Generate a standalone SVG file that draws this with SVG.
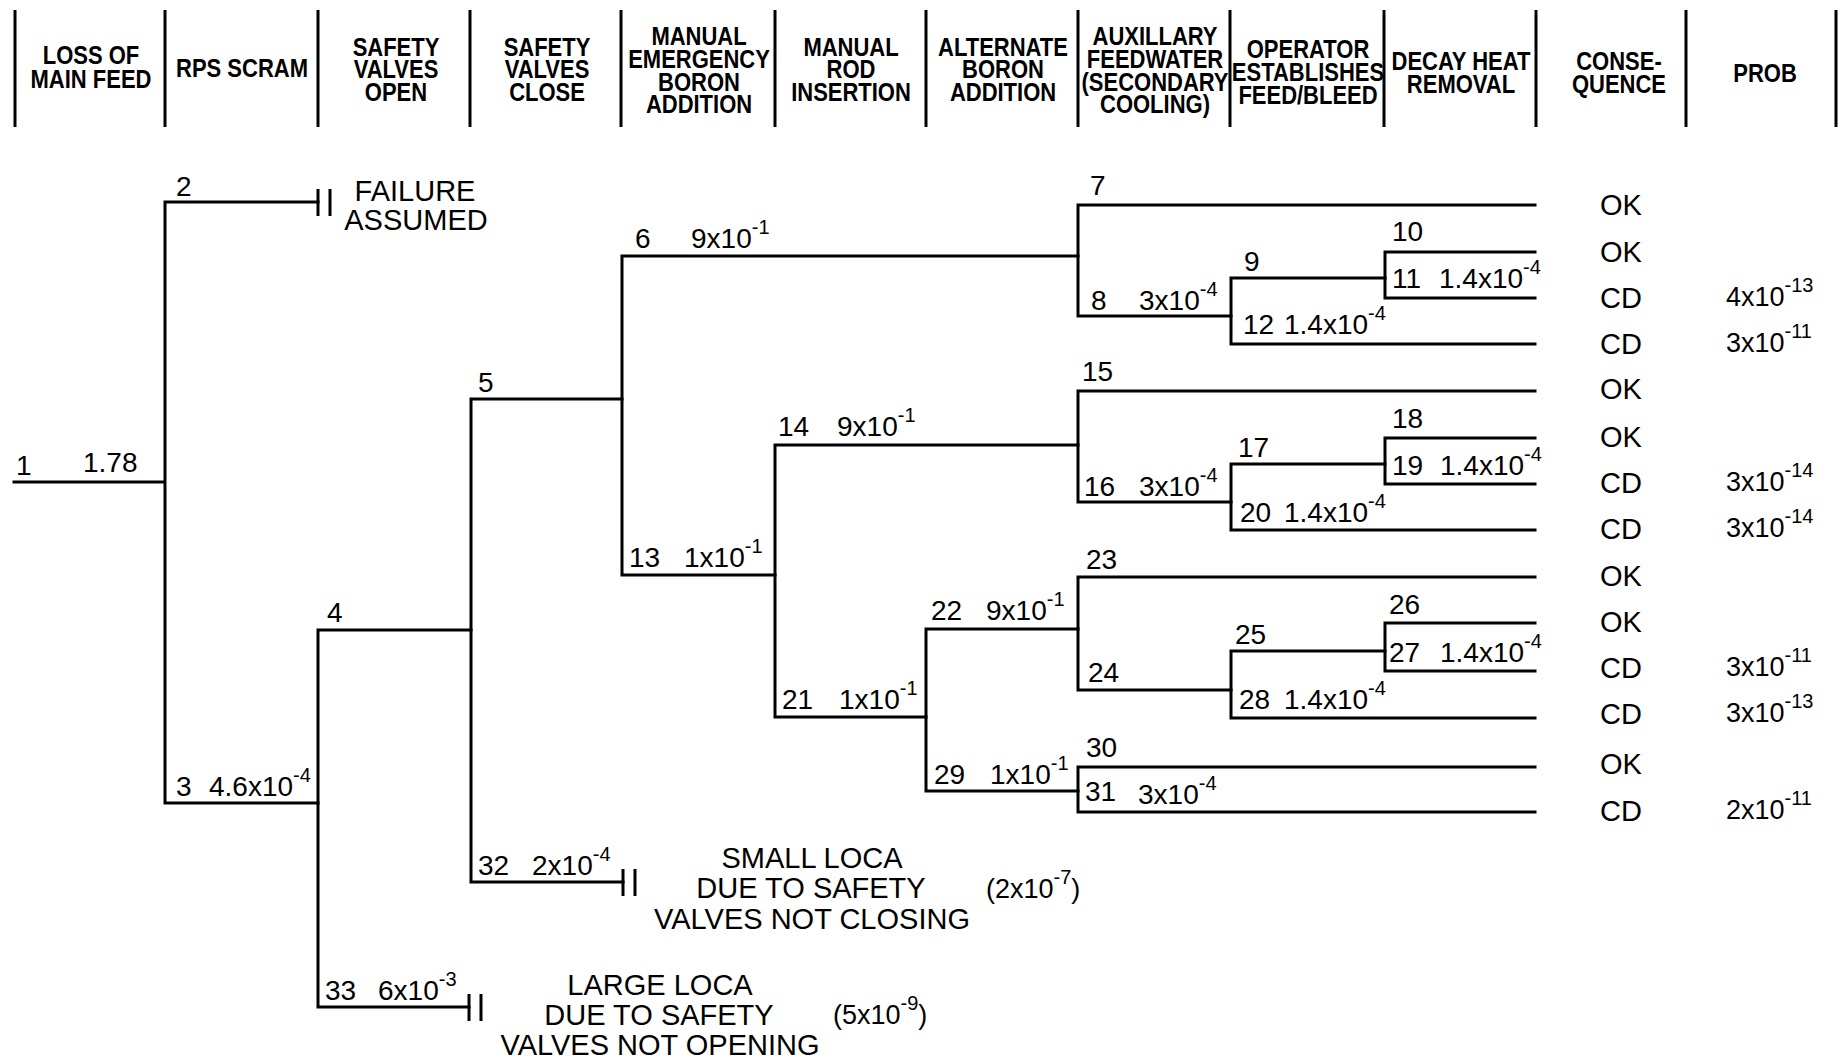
<svg xmlns="http://www.w3.org/2000/svg" width="1840" height="1060" viewBox="0 0 1840 1060">
<style>
.ln{stroke:#000;stroke-width:3;fill:none;stroke-linecap:square}
.dv{stroke:#000;stroke-width:3;fill:none}
.hd{font-family:"Liberation Sans",Arial,sans-serif;font-weight:bold;font-size:25px;text-anchor:middle;fill:#000}
.lb{font-family:"Liberation Sans",Arial,sans-serif;font-size:28px;fill:#000}
.sp{font-size:20px}
.big{font-family:"Liberation Sans",Arial,sans-serif;font-size:29px;text-anchor:middle;fill:#000}
.oc{font-family:"Liberation Sans",Arial,sans-serif;font-size:29px;fill:#000}
.pr{font-family:"Liberation Sans",Arial,sans-serif;font-size:27px;fill:#000}
</style>
<rect width="1840" height="1060" fill="#fff"/>
<g id="header-dividers" class="dv">
<path d="M15 10V127M165 10V127M318 10V127M470 10V127M621 10V127M775 10V127M926 10V127M1078 10V127M1230 10V127M1384 10V127M1536 10V127M1686 10V127M1836 10V127"/>
</g>
<g id="hdr-loss" transform="translate(91 0) scale(0.88 1)"><text class="hd" x="0" y="64">LOSS OF</text><text class="hd" x="0" y="88">MAIN FEED</text></g>
<g id="hdr-rps" transform="translate(242 0) scale(0.88 1)"><text class="hd" x="0" y="77">RPS SCRAM</text></g>
<g id="hdr-svopen" transform="translate(396 0) scale(0.88 1)"><text class="hd" x="0" y="56">SAFETY</text><text class="hd" x="0" y="78">VALVES</text><text class="hd" x="0" y="101">OPEN</text></g>
<g id="hdr-svclose" transform="translate(547 0) scale(0.88 1)"><text class="hd" x="0" y="56">SAFETY</text><text class="hd" x="0" y="78">VALVES</text><text class="hd" x="0" y="101">CLOSE</text></g>
<g id="hdr-meba" transform="translate(699 0) scale(0.88 1)"><text class="hd" x="0" y="45">MANUAL</text><text class="hd" x="0" y="68">EMERGENCY</text><text class="hd" x="0" y="91">BORON</text><text class="hd" x="0" y="113">ADDITION</text></g>
<g id="hdr-mri" transform="translate(851 0) scale(0.88 1)"><text class="hd" x="0" y="56">MANUAL</text><text class="hd" x="0" y="78">ROD</text><text class="hd" x="0" y="101">INSERTION</text></g>
<g id="hdr-aba" transform="translate(1003 0) scale(0.88 1)"><text class="hd" x="0" y="56">ALTERNATE</text><text class="hd" x="0" y="78">BORON</text><text class="hd" x="0" y="101">ADDITION</text></g>
<g id="hdr-afw" transform="translate(1155 0) scale(0.88 1)"><text class="hd" x="0" y="45">AUXILLARY</text><text class="hd" x="0" y="68">FEEDWATER</text><text class="hd" x="0" y="91">(SECONDARY</text><text class="hd" x="0" y="113">COOLING)</text></g>
<g id="hdr-oper" transform="translate(1308 0) scale(0.88 1)"><text class="hd" x="0" y="58">OPERATOR</text><text class="hd" x="0" y="81">ESTABLISHES</text><text class="hd" x="0" y="104">FEED/BLEED</text></g>
<g id="hdr-dhr" transform="translate(1461 0) scale(0.88 1)"><text class="hd" x="0" y="70">DECAY HEAT</text><text class="hd" x="0" y="93">REMOVAL</text></g>
<g id="hdr-cons" transform="translate(1619 0) scale(0.88 1)"><text class="hd" x="0" y="70">CONSE-</text><text class="hd" x="0" y="93">QUENCE</text></g>
<g id="hdr-prob" transform="translate(1765 0) scale(0.88 1)"><text class="hd" x="0" y="82">PROB</text></g>

<g id="connectors" class="ln">
<path d="M14 482H165M165 202V803M165 202H318M165 803H318"/>
<path d="M318 189V216M330 189V216" style="stroke-linecap:butt"/>
<path d="M318 630V1007M318 630H471M318 1007H469"/>
<path d="M469 994V1021M481 994V1021" style="stroke-linecap:butt"/>
<path d="M471 399V882M471 399H622M471 882H623"/>
<path d="M623 869V896M635 869V896" style="stroke-linecap:butt"/>
<path d="M622 256V575M622 256H1078M622 575H775"/>
<path d="M1078 205V316M1078 205H1535M1078 316H1231"/>
<path d="M1231 278V344M1231 278H1385M1231 344H1535"/>
<path d="M1385 252V298M1385 252H1535M1385 298H1535"/>
<path d="M775 445V717M775 445H1078M775 717H926"/>
<path d="M1078 391V502M1078 391H1535M1078 502H1231"/>
<path d="M1231 464V530M1231 464H1385M1231 530H1535"/>
<path d="M1385 438V484M1385 438H1535M1385 484H1535"/>
<path d="M926 629V791M926 629H1078M926 791H1078"/>
<path d="M1078 577V690M1078 577H1535M1078 690H1231"/>
<path d="M1231 651V718M1231 651H1385M1231 718H1535"/>
<path d="M1385 623V671M1385 623H1535M1385 671H1535"/>
<path d="M1078 767V812M1078 767H1535M1078 812H1535"/>
</g>

<g id="n1"><text class="lb" x="16" y="475">1</text><text class="lb" x="83" y="472">1.78</text></g>
<g id="n2"><text class="lb" x="176" y="196">2</text></g>
<g id="failure-assumed"><text class="big" x="415" y="201">FAILURE</text><text class="big" x="416" y="230">ASSUMED</text></g>
<g id="n3"><text class="lb" x="176" y="796">3</text><text class="lb" x="209" y="796">4.6x10<tspan class="sp" dy="-14">-4</tspan></text></g>
<g id="n4"><text class="lb" x="327" y="622">4</text></g>
<g id="n33"><text class="lb" x="325" y="1000">33</text><text class="lb" x="378" y="1000">6x10<tspan class="sp" dy="-14">-3</tspan></text></g>
<g id="large-loca"><text class="big" x="660" y="995">LARGE LOCA</text><text class="big" x="659" y="1025">DUE TO SAFETY</text><text class="big" x="660" y="1055">VALVES NOT OPENING</text><text class="pr" x="833" y="1024">(5x10<tspan class="sp" dy="-14">-9</tspan><tspan dy="14">)</tspan></text></g>
<g id="n5"><text class="lb" x="478" y="392">5</text></g>
<g id="n32"><text class="lb" x="478" y="875">32</text><text class="lb" x="532" y="875">2x10<tspan class="sp" dy="-14">-4</tspan></text></g>
<g id="small-loca"><text class="big" x="812" y="868">SMALL LOCA</text><text class="big" x="811" y="898">DUE TO SAFETY</text><text class="big" x="812" y="929">VALVES NOT CLOSING</text><text class="pr" x="986" y="898">(2x10<tspan class="sp" dy="-14">-7</tspan><tspan dy="14">)</tspan></text></g>
<g id="n6"><text class="lb" x="635" y="248">6</text><text class="lb" x="691" y="248">9x10<tspan class="sp" dy="-14">-1</tspan></text></g>
<g id="n13"><text class="lb" x="629" y="567">13</text><text class="lb" x="684" y="567">1x10<tspan class="sp" dy="-14">-1</tspan></text></g>
<g id="n7"><text class="lb" x="1090" y="195">7</text></g>
<g id="n8"><text class="lb" x="1091" y="310">8</text><text class="lb" x="1139" y="310">3x10<tspan class="sp" dy="-14">-4</tspan></text></g>
<g id="n9"><text class="lb" x="1244" y="271">9</text></g>
<g id="n12"><text class="lb" x="1243" y="334">12</text><text class="lb" x="1284" y="334">1.4x10<tspan class="sp" dy="-14">-4</tspan></text></g>
<g id="n10"><text class="lb" x="1392" y="241">10</text></g>
<g id="n11"><text class="lb" x="1392" y="288">11</text><text class="lb" x="1439" y="288">1.4x10<tspan class="sp" dy="-14">-4</tspan></text></g>
<g id="n14"><text class="lb" x="778" y="436">14</text><text class="lb" x="837" y="436">9x10<tspan class="sp" dy="-14">-1</tspan></text></g>
<g id="n21"><text class="lb" x="782" y="709">21</text><text class="lb" x="839" y="709">1x10<tspan class="sp" dy="-14">-1</tspan></text></g>
<g id="n15"><text class="lb" x="1082" y="381">15</text></g>
<g id="n16"><text class="lb" x="1084" y="496">16</text><text class="lb" x="1139" y="496">3x10<tspan class="sp" dy="-14">-4</tspan></text></g>
<g id="n17"><text class="lb" x="1238" y="457">17</text></g>
<g id="n20"><text class="lb" x="1240" y="522">20</text><text class="lb" x="1284" y="522">1.4x10<tspan class="sp" dy="-14">-4</tspan></text></g>
<g id="n18"><text class="lb" x="1392" y="428">18</text></g>
<g id="n19"><text class="lb" x="1392" y="475">19</text><text class="lb" x="1440" y="475">1.4x10<tspan class="sp" dy="-14">-4</tspan></text></g>
<g id="n22"><text class="lb" x="931" y="620">22</text><text class="lb" x="986" y="620">9x10<tspan class="sp" dy="-14">-1</tspan></text></g>
<g id="n29"><text class="lb" x="934" y="784">29</text><text class="lb" x="990" y="784">1x10<tspan class="sp" dy="-14">-1</tspan></text></g>
<g id="n23"><text class="lb" x="1086" y="569">23</text></g>
<g id="n24"><text class="lb" x="1088" y="682">24</text></g>
<g id="n25"><text class="lb" x="1235" y="644">25</text></g>
<g id="n28"><text class="lb" x="1239" y="709">28</text><text class="lb" x="1284" y="709">1.4x10<tspan class="sp" dy="-14">-4</tspan></text></g>
<g id="n26"><text class="lb" x="1389" y="614">26</text></g>
<g id="n27"><text class="lb" x="1389" y="662">27</text><text class="lb" x="1440" y="662">1.4x10<tspan class="sp" dy="-14">-4</tspan></text></g>
<g id="n30"><text class="lb" x="1086" y="757">30</text></g>
<g id="n31"><text class="lb" x="1085" y="801">31</text><text class="lb" x="1138" y="804">3x10<tspan class="sp" dy="-14">-4</tspan></text></g>

<g id="outcomes">
<text class="oc" x="1600" y="215">OK</text>
<text class="oc" x="1600" y="262">OK</text>
<text class="oc" x="1600" y="308">CD</text><text class="pr" x="1726" y="306">4x10<tspan class="sp" dy="-14">-13</tspan></text>
<text class="oc" x="1600" y="354">CD</text><text class="pr" x="1726" y="352">3x10<tspan class="sp" dy="-14">-11</tspan></text>
<text class="oc" x="1600" y="399">OK</text>
<text class="oc" x="1600" y="447">OK</text>
<text class="oc" x="1600" y="493">CD</text><text class="pr" x="1726" y="491">3x10<tspan class="sp" dy="-14">-14</tspan></text>
<text class="oc" x="1600" y="539">CD</text><text class="pr" x="1726" y="537">3x10<tspan class="sp" dy="-14">-14</tspan></text>
<text class="oc" x="1600" y="586">OK</text>
<text class="oc" x="1600" y="632">OK</text>
<text class="oc" x="1600" y="678">CD</text><text class="pr" x="1726" y="676">3x10<tspan class="sp" dy="-14">-11</tspan></text>
<text class="oc" x="1600" y="724">CD</text><text class="pr" x="1726" y="722">3x10<tspan class="sp" dy="-14">-13</tspan></text>
<text class="oc" x="1600" y="774">OK</text>
<text class="oc" x="1600" y="821">CD</text><text class="pr" x="1726" y="819">2x10<tspan class="sp" dy="-14">-11</tspan></text>
</g>
</svg>
